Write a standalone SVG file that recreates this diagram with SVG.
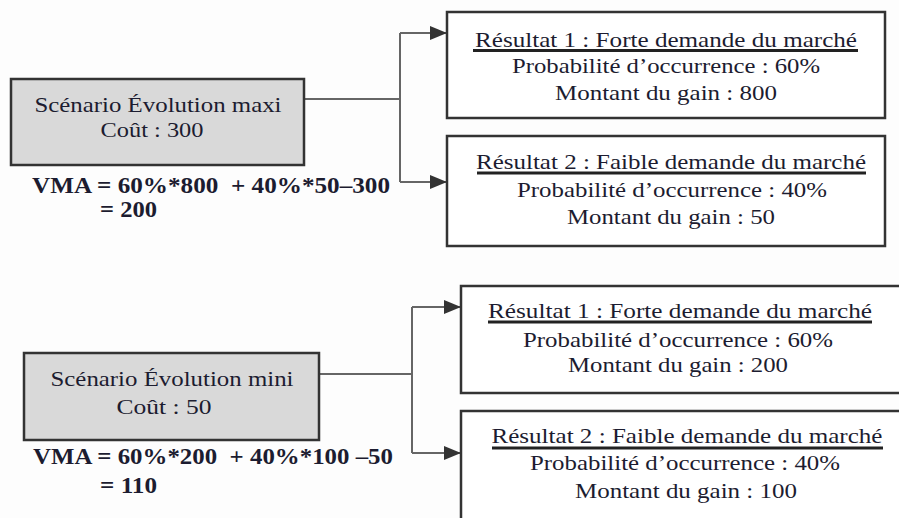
<svg xmlns="http://www.w3.org/2000/svg" width="899" height="518" viewBox="0 0 899 518">
<style>
.bg{fill:#fdfdfd}
.scen{fill:#d9d9d9;stroke:#333;stroke-width:2.5}
.res{fill:#fff;stroke:#333;stroke-width:2.5}
.t{font-family:"Liberation Serif","Times New Roman",serif;font-size:21px;fill:#1c1c30;text-anchor:middle}
.vma{font-family:"Liberation Serif","Times New Roman",serif;font-size:23px;font-weight:bold;fill:#1c1c30}
.ul{stroke:#222;stroke-width:3}
.conn{fill:none;stroke:#666;stroke-width:2}
</style>
<defs>
<marker id="arr" markerUnits="userSpaceOnUse" markerWidth="18" markerHeight="16" refX="17" refY="8" orient="auto">
<path d="M0,1 L17,8 L0,15 Z" fill="#333"/>
</marker>
</defs>
<rect class="bg" x="0" y="0" width="899" height="518"/>
<g id="connectors">
<path class="conn" d="M304,99 H400"/>
<path class="conn" d="M400,33 V182"/>
<path class="conn" d="M400,33 H447" marker-end="url(#arr)"/>
<path class="conn" d="M400,182 H447" marker-end="url(#arr)"/>
<path class="conn" d="M319,374 H412"/>
<path class="conn" d="M412,307 V453"/>
<path class="conn" d="M412,307 H461" marker-end="url(#arr)"/>
<path class="conn" d="M412,453 H461" marker-end="url(#arr)"/>
</g>
<g id="scenario-maxi">
<rect class="scen" x="11" y="79" width="293" height="86"/>
<text class="t" x="158" y="112" textLength="247" lengthAdjust="spacingAndGlyphs">Scénario Évolution maxi</text>
<text class="t" x="152" y="137" textLength="103" lengthAdjust="spacingAndGlyphs">Coût : 300</text>
</g>
<g id="vma-maxi">
<text class="vma" x="32" y="193" textLength="358" lengthAdjust="spacingAndGlyphs">VMA = 60%*800&#160; + 40%*50–300</text>
<text class="vma" x="100" y="217" textLength="57" lengthAdjust="spacingAndGlyphs">= 200</text>
</g>
<g id="maxi-resultat-1">
<rect class="res" x="447" y="12" width="438" height="106"/>
<text class="t" x="666" y="47" textLength="382" lengthAdjust="spacingAndGlyphs">Résultat 1 : Forte demande du marché</text>
<line class="ul" x1="473" y1="50.5" x2="858" y2="50.5"/>
<text class="t" x="666" y="73" textLength="308" lengthAdjust="spacingAndGlyphs">Probabilité d’occurrence : 60%</text>
<text class="t" x="666" y="100" textLength="222" lengthAdjust="spacingAndGlyphs">Montant du gain : 800</text>
</g>
<g id="maxi-resultat-2">
<rect class="res" x="447" y="136" width="438" height="110"/>
<text class="t" x="671" y="169" textLength="390" lengthAdjust="spacingAndGlyphs">Résultat 2 : Faible demande du marché</text>
<line class="ul" x1="477" y1="173" x2="866" y2="173"/>
<text class="t" x="672" y="197" textLength="310" lengthAdjust="spacingAndGlyphs">Probabilité d’occurrence : 40%</text>
<text class="t" x="671" y="224" textLength="208" lengthAdjust="spacingAndGlyphs">Montant du gain : 50</text>
</g>
<g id="scenario-mini">
<rect class="scen" x="24" y="353" width="295" height="87"/>
<text class="t" x="172" y="386" textLength="243" lengthAdjust="spacingAndGlyphs">Scénario Évolution mini</text>
<text class="t" x="164" y="414" textLength="95" lengthAdjust="spacingAndGlyphs">Coût : 50</text>
</g>
<g id="vma-mini">
<text class="vma" x="33" y="464" textLength="360" lengthAdjust="spacingAndGlyphs">VMA = 60%*200&#160; + 40%*100 –50</text>
<text class="vma" x="100" y="493" textLength="57" lengthAdjust="spacingAndGlyphs">= 110</text>
</g>
<g id="mini-resultat-1">
<rect class="res" x="461" y="286" width="460" height="107"/>
<text class="t" x="680" y="318" textLength="384" lengthAdjust="spacingAndGlyphs">Résultat 1 : Forte demande du marché</text>
<line class="ul" x1="488" y1="322" x2="872" y2="322"/>
<text class="t" x="678" y="347" textLength="310" lengthAdjust="spacingAndGlyphs">Probabilité d’occurrence : 60%</text>
<text class="t" x="678" y="372" textLength="220" lengthAdjust="spacingAndGlyphs">Montant du gain : 200</text>
</g>
<g id="mini-resultat-2">
<rect class="res" x="461" y="411" width="460" height="130"/>
<text class="t" x="687" y="443" textLength="391" lengthAdjust="spacingAndGlyphs">Résultat 2 : Faible demande du marché</text>
<line class="ul" x1="492" y1="448" x2="883" y2="448"/>
<text class="t" x="685" y="470" textLength="310" lengthAdjust="spacingAndGlyphs">Probabilité d’occurrence : 40%</text>
<text class="t" x="686" y="498" textLength="222" lengthAdjust="spacingAndGlyphs">Montant du gain : 100</text>
</g>
</svg>
